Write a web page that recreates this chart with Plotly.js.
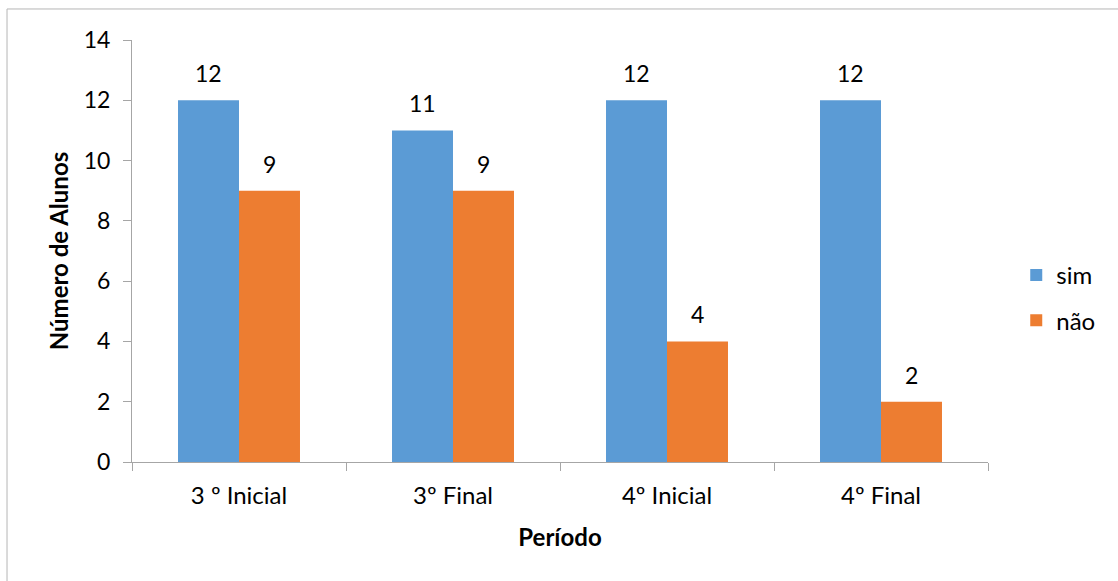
<!DOCTYPE html>
<html>
<head>
<meta charset="utf-8">
<script src="https://cdn.plot.ly/plotly-3.0.1.min.js"></script>
<style>html,body{margin:0;padding:0;background:#fff;}#chart{width:1118px;height:581px;}</style>
</head>
<body>
<div id="chart"></div>
<script>
const categories = ["3 º Inicial", "3º Final", "4º Inicial", "4º Final"];
const simValues = [12, 11, 12, 12];
const naoValues = [9, 9, 4, 2];
const seriesNames = ["sim", "não"];
const yTicks = [0, 2, 4, 6, 8, 10, 12, 14];

const FONT = "Lato, 'Open Sans', sans-serif";
const FS = 24;
const axisColor = "#a6a6a6";

const traces = [
  {type: "bar", name: seriesNames[0], legendgroup: "g1", x: categories, y: simValues, marker: {color: "#5b9bd5", line: {width: 0}}, hoverinfo: "skip"},
  {type: "bar", name: seriesNames[1], legendgroup: "g2", x: categories, y: naoValues, marker: {color: "#ed7d31", line: {width: 0}}, hoverinfo: "skip"}
];

const annotations = [];
categories.forEach((c, i) => {
  annotations.push({x: c, y: simValues[i], text: String(simValues[i]), showarrow: false, xshift: -30.5, yshift: 27, font: {family: FONT, size: 23, color: "#000"}});
  annotations.push({x: c, y: naoValues[i], text: String(naoValues[i]), showarrow: false, xshift: 30.5, yshift: 27, font: {family: FONT, size: 23, color: "#000"}});
});

const layout = {
  width: 1118, height: 581,
  margin: {l: 132, r: 130, t: 40, b: 119},
  paper_bgcolor: "#fff", plot_bgcolor: "#fff",
  font: {family: FONT, size: FS, color: "#000"},
  barmode: "group",
  bargap: 0.43,
  bargroupgap: 0,
  xaxis: {
    type: "category",
    showline: true, linecolor: axisColor, linewidth: 1,
    ticks: "outside", tickson: "boundaries", ticklen: 8, tickcolor: axisColor,
    showgrid: false, zeroline: false,
    ticklabelstandoff: 12,
    tickfont: {family: FONT, size: FS, color: "#000"},
    title: {text: "<b>Período</b>", font: {family: FONT, size: FS, color: "#000"}, standoff: 21}
  },
  yaxis: {
    range: [0, 14], tickvals: yTicks,
    showline: true, linecolor: axisColor, linewidth: 1,
    ticks: "outside", ticklen: 8, tickcolor: axisColor,
    showgrid: false, zeroline: false,
    tickfont: {family: FONT, size: 23, color: "#000"},
    ticklabelstandoff: 8,
    title: {text: "<b>Número de Alunos</b>", font: {family: FONT, size: FS, color: "#000"}, standoff: 8}
  },
  legend: {x: 1.033, y: 0.389, xanchor: "left", yanchor: "middle", font: {family: FONT, size: FS, color: "#000"}, tracegroupgap: 11, itemwidth: 30},
  annotations: annotations,
  shapes: [{type: "rect", xref: "paper", yref: "paper", x0: -0.146, x1: 1.17, y0: -0.31, y1: 1.0735, line: {color: "#b5b5b5", width: 1}, fillcolor: "rgba(0,0,0,0)"}]
};

Plotly.newPlot("chart", traces, layout, {displayModeBar: false, staticPlot: true});
</script>
</body>
</html>
